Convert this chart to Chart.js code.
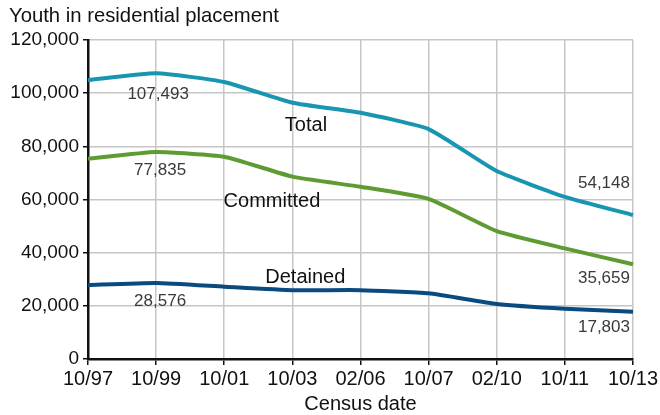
<!DOCTYPE html>
<html><head><meta charset="utf-8">
<script src="https://cdn.jsdelivr.net/npm/chart.js@4/dist/chart.umd.min.js"></script>
<style>html,body{margin:0;padding:0;background:#fff}#wrap{width:660px;height:415px}</style>
</head><body><div id="wrap"><canvas id="c" width="660" height="415"></canvas></div>
<script>
const categories = ['10/97','10/99','10/01','10/03','02/06','10/07','02/10','10/11','10/13'];
const totalValues = [104900, 107493, 104200, 96400, 92600, 86500, 70700, 61000, 54148];
const committedValues = [75300, 77835, 76100, 68600, 64800, 60200, 48100, 41600, 35659];
const detainedValues = [27800, 28576, 27200, 25900, 25900, 24700, 20700, 18900, 17803];
const yTicks = [0, 20000, 40000, 60000, 80000, 100000, 120000];
const seriesNames = ['Total', 'Committed', 'Detained'];
const titleText = 'Youth in residential placement';
const xTitle = 'Census date';

const FONT = '"Liberation Sans", Arial, Helvetica, sans-serif';
const fmt = v => v.toLocaleString('en-US');

// value labels: [series index, category index, align, dx, dy]
const valueLabels = [
  [0, 1, 'center', 2, 21], [1, 1, 'center', 4, 18], [2, 1, 'center', 4, 18],
  [0, 8, 'right', -3, -32], [1, 8, 'right', -3, 14], [2, 8, 'right', -3, 16]
];
// series name labels: [series index, category position, value]
const nameLabels = [[0, 3.2, 87700], [1, 2.7, 59400], [2, 3.19, 30500]];

const annot = {
  id: 'annot',
  afterDatasetsDraw(chart) {
    const ctx = chart.ctx, xs = chart.scales.x, ys = chart.scales.y;
    const data = [totalValues, committedValues, detainedValues];
    ctx.save();
    ctx.textBaseline = 'middle';
    ctx.fillStyle = '#3a3a3a';
    ctx.font = '17px ' + FONT;
    valueLabels.forEach(([s, i, al, dx, dy]) => {
      ctx.textAlign = al;
      ctx.fillText(fmt(data[s][i]), xs.getPixelForValue(i) + dx, ys.getPixelForValue(data[s][i]) + dy);
    });
    ctx.fillStyle = '#111';
    ctx.font = '20px ' + FONT;
    ctx.textAlign = 'center';
    nameLabels.forEach(([s, pos, v]) => {
      ctx.fillText(seriesNames[s], xs.getPixelForValue(pos), ys.getPixelForValue(v));
    });
    ctx.textAlign = 'left';
    ctx.font = '20.3px ' + FONT;
    ctx.fillText(titleText, 9, 16);
    ctx.font = '20px ' + FONT;
    ctx.textAlign = 'center';
    ctx.fillText(xTitle, (xs.left + xs.right) / 2, 404);
    ctx.restore();
  }
};

new Chart(document.getElementById('c'), {
  type: 'line',
  data: {
    labels: categories,
    datasets: [
      { label: seriesNames[0], data: totalValues, borderColor: '#1895b1' },
      { label: seriesNames[1], data: committedValues, borderColor: '#5e9b33' },
      { label: seriesNames[2], data: detainedValues, borderColor: '#0b4a7f' }
    ].map(d => Object.assign(d, { borderWidth: 4, pointRadius: 0, tension: 0.15, fill: false }))
  },
  options: {
    responsive: false,
    animation: false,
    events: [],
    layout: { padding: { top: 40, right: 26, left: 0, bottom: 0 } },
    plugins: { legend: { display: false }, tooltip: { enabled: false } },
    scales: {
      x: {
        offset: false,
        grid: { color: '#c6c6c6', lineWidth: 1.5, tickLength: 6, tickColor: '#111', drawTicks: true },
        border: { color: '#111', width: 2.5 },
        ticks: { color: '#111', font: { family: FONT, size: 20 }, padding: 2, maxRotation: 0, autoSkip: false },
        afterFit(s) { s.height = 56; }
      },
      y: {
        min: 0, max: 120000,
        afterBuildTicks(s) { s.ticks = yTicks.map(v => ({ value: v })); },
        grid: { color: '#c6c6c6', lineWidth: 1.5, tickLength: 5, tickColor: '#111' },
        border: { color: '#111', width: 2.5 },
        ticks: { color: '#111', font: { family: FONT, size: 19 }, padding: 4, callback: v => fmt(v) },
        afterFit(s) { s.width = 88; }
      }
    }
  },
  plugins: [annot]
});
</script></body></html>
